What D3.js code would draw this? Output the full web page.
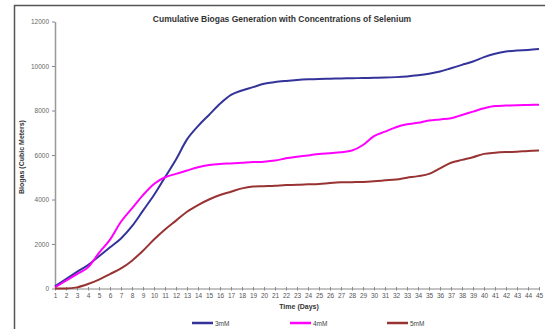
<!DOCTYPE html>
<html>
<head>
<meta charset="utf-8">
<script src="https://cdn.jsdelivr.net/npm/d3@7"></script>
<style>
  body { margin: 0; background: #fff; }
  svg { display: block; font-family: Arial, "Liberation Sans", sans-serif; }
</style>
</head>
<body>
<svg width="545" height="329"></svg>
<script>
const days = d3.range(1, 46);
const seriesNames = ["3mM", "4mM", "5mM"];
const colors = ["#33339a", "#ff00ff", "#993333"];

const s3 = [100, 420, 750, 1050, 1450, 1850, 2250, 2800, 3500, 4200,
  5000, 5800, 6700, 7300, 7800, 8300, 8700, 8900, 9050, 9200,
  9280, 9330, 9370, 9400, 9420, 9430, 9440, 9450, 9460, 9470,
  9480, 9500, 9530, 9580, 9650, 9750, 9900, 10050, 10200, 10400,
  10550, 10650, 10700, 10720, 10760];
const s4 = [50, 350, 650, 950, 1600, 2200, 3000, 3600, 4200, 4700,
  5000, 5150, 5300, 5450, 5550, 5600, 5620, 5650, 5680, 5700,
  5750, 5850, 5920, 5980, 6050, 6080, 6120, 6200, 6450, 6850,
  7050, 7250, 7380, 7450, 7550, 7600, 7650, 7800, 7950, 8100,
  8200, 8220, 8240, 8250, 8260];
const s5 = [0, 0, 50, 200, 400, 650, 900, 1250, 1700, 2200,
  2650, 3050, 3450, 3750, 4000, 4200, 4350, 4500, 4580, 4600,
  4620, 4650, 4660, 4680, 4700, 4740, 4770, 4780, 4790, 4820,
  4860, 4900, 4980, 5050, 5150, 5400, 5650, 5780, 5900, 6050,
  6100, 6130, 6150, 6180, 6200];
const yTicks = [0, 2000, 4000, 6000, 8000, 10000, 12000];

const series = [s3, s4, s5];

const svg = d3.select("svg");

// chart frame
svg.append("rect")
  .attr("x", 14.5).attr("y", 5.5)
  .attr("width", 540).attr("height", 340)
  .attr("fill", "none")
  .attr("stroke", "#555")
  .attr("stroke-width", 1.5);

const x = d3.scalePoint()
  .domain(days)
  .range([55, 539]);

const y = d3.scaleLinear()
  .domain([0, 12000])
  .range([288.5, 21.5]);

// y axis
const yAxis = svg.append("g")
  .attr("transform", "translate(55,0)")
  .call(d3.axisLeft(y).tickValues(yTicks).tickFormat(d3.format("d")).tickSize(3).tickSizeOuter(0));
yAxis.select(".domain").attr("stroke", "#999").attr("stroke-width", 1.5);
yAxis.selectAll(".tick line").attr("stroke", "#888");
yAxis.selectAll("text")
  .attr("font-size", 6.5).attr("fill", "#666")
  .attr("font-family", "Arial, 'Liberation Sans', sans-serif");

// x axis
const xAxis = svg.append("g")
  .attr("transform", "translate(0,288.5)")
  .call(d3.axisBottom(x).tickSize(3).tickSizeOuter(0));
xAxis.select(".domain").attr("stroke", "#888");
xAxis.selectAll(".tick line").attr("stroke", "#888").attr("y1", -1.5).attr("y2", 2);
xAxis.selectAll("text")
  .attr("font-size", 6.5).attr("fill", "#555").attr("dy", "0.6em")
  .attr("font-family", "Arial, 'Liberation Sans', sans-serif");

// lines
const line = d3.line()
  .x((d, i) => x(days[i]))
  .y(d => y(d))
  .curve(d3.curveMonotoneX);

series.forEach((s, i) => {
  svg.append("path")
    .datum(s)
    .attr("fill", "none")
    .attr("stroke", colors[i])
    .attr("stroke-width", 2)
    .attr("d", line);
});

// titles
svg.append("text")
  .attr("x", 282).attr("y", 22)
  .attr("text-anchor", "middle")
  .attr("font-size", 8.5).attr("font-weight", "bold").attr("fill", "#333")
  .text("Cumulative Biogas Generation with Concentrations of Selenium");

svg.append("text")
  .attr("transform", "translate(24,157) rotate(-90)")
  .attr("text-anchor", "middle")
  .attr("font-size", 7).attr("font-weight", "bold").attr("fill", "#333")
  .text("Biogas (Cubic Meters)");

svg.append("text")
  .attr("x", 299).attr("y", 309)
  .attr("text-anchor", "middle")
  .attr("font-size", 7).attr("font-weight", "bold").attr("fill", "#333")
  .text("Time (Days)");

// legend
const legendX = [192, 290, 387];
const legend = svg.append("g");
seriesNames.forEach((name, i) => {
  legend.append("line")
    .attr("x1", legendX[i]).attr("x2", legendX[i] + 21)
    .attr("y1", 323).attr("y2", 323)
    .attr("stroke", colors[i]).attr("stroke-width", 2.5);
  legend.append("text")
    .attr("x", legendX[i] + 23).attr("y", 325.5)
    .attr("font-size", 6.5).attr("fill", "#444")
    .text(name);
});
</script>
</body>
</html>
